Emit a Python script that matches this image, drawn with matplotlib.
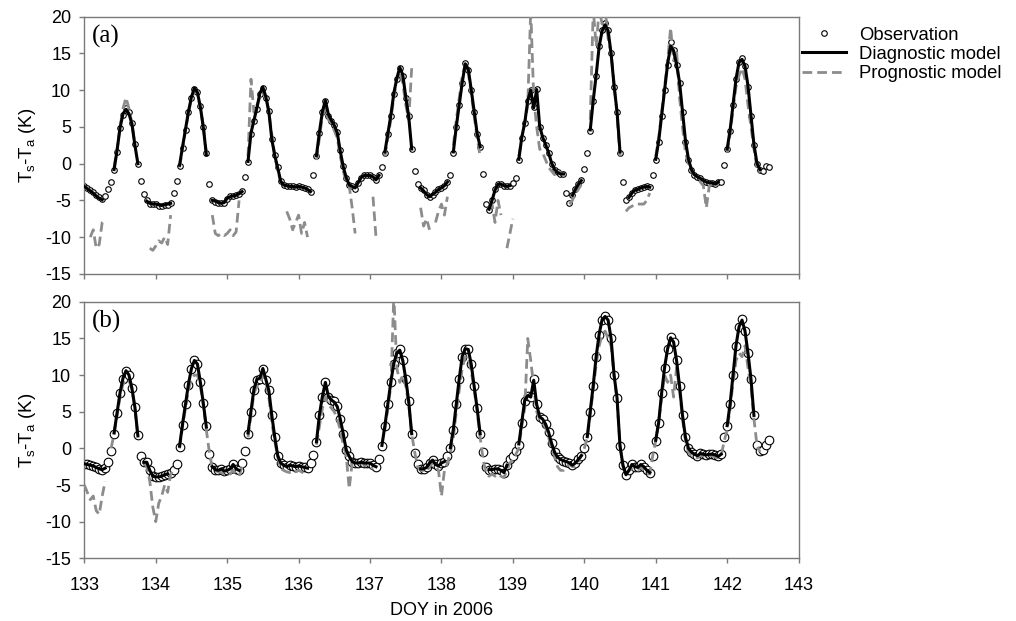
import numpy as np
import matplotlib
matplotlib.use("Agg")
import matplotlib.pyplot as plt

nan = np.nan

# hourly surface-air temperature difference (K), DOY 133.0 - 142.6
# ---- panel (a) ----
obs_a = [
    -3.0, -3.3, -3.6, -3.9, -4.3, -4.6, -4.8, -4.4, -3.4, -2.5, -0.9, 1.6, 4.8, 6.6, 7.6, 7.0, 5.5, 2.7, 0.0, -2.3, -4.1, -5.0, -5.5, -5.5,
    -5.5, -5.7, -5.7, -5.6, -5.6, -5.4, -4.0, -2.4, -0.3, 2.2, 4.6, 7.0, 9.0, 10.2, 9.8, 7.8, 5.0, 1.5, -2.8, -5.0, -5.2, -5.3, -5.4, -5.3,
    -4.8, -4.4, -4.4, -4.3, -4.1, -3.7, -1.8, 0.2, 4.1, 5.8, 7.5, 9.5, 10.3, 9.0, 7.2, 3.4, 1.2, -0.5, -2.4, -2.9, -3.0, -3.1, -3.1, -3.2,
    -3.1, -3.2, -3.3, -3.5, -3.9, -1.6, 1.0, 4.2, 7.0, 8.5, 6.5, 5.8, 5.3, 4.3, 1.8, -0.3, -1.9, -2.9, -3.1, -3.4, -2.6, -1.9, -1.5, -1.6,
    -1.5, -1.8, -2.2, -1.5, -0.5, 1.5, 4.0, 6.5, 9.5, 11.5, 13.0, 12.0, 9.0, 6.5, 2.0, -1.0, -2.8, -3.3, -3.6, -4.2, -4.6, -4.2, -3.9, -3.5,
    -3.3, -3.0, -2.5, -1.5, 1.5, 5.0, 8.0, 11.0, 13.7, 12.8, 10.0, 7.0, 4.0, 2.3, -1.4, -5.5, -6.3, -5.0, -3.5, -2.7, -2.8, -3.0, -3.0, -3.0,
    -2.6, -2.0, 0.5, 3.5, 5.5, 8.5, 10.0, 7.7, 10.2, 5.0, 3.5, 2.5, 1.5, 0.0, -0.8, -1.2, -1.4, -1.4, -4.0, -5.3, -4.3, -3.5, -2.8, -2.2,
    -0.7, 1.5, 4.5, 8.5, 12.0, 16.0, 18.2, 19.2, 18.2, 15.0, 10.5, 7.0, 1.5, -2.5, -5.0, -4.5, -4.0, -3.6, -3.5, -3.3, -3.2, -3.1, -3.2, -1.6,
    0.5, 3.0, 6.5, 10.0, 13.5, 16.6, 15.5, 13.5, 11.0, 7.0, 3.0, 0.5, -0.8, -1.5, -1.8, -2.0, -2.3, -2.5, -2.6, -2.6, -2.8, -2.5, -2.5, -0.2,
    2.0, 4.5, 8.0, 11.5, 13.8, 14.4, 13.3, 10.5, 6.5, 2.5, 0.0, -0.8, -1.0, -0.3, -0.5,
]
diag_a = [
    -3.1, -3.4, -3.7, -4.0, -4.4, -4.7, -4.9, nan, nan, nan, -0.8, 1.8, 4.9, 6.8, 7.4, 6.8, 5.4, 2.5, 0.0, nan, nan, -5.1, -5.4, -5.5,
    -5.5, -5.6, -5.7, -5.6, -5.5, -5.4, nan, nan, -0.2, 2.3, 4.7, 7.1, 9.1, 10.3, 9.7, 7.7, 4.9, 1.2, nan, -5.0, -5.1, -5.3, -5.4, -5.3,
    -4.7, -4.5, -4.4, -4.3, -4.1, -3.8, nan, 0.3, 4.2, 5.9, 7.6, 9.6, 10.4, 9.1, 7.1, 3.3, 1.1, -0.6, -2.4, -2.9, -3.0, -3.1, -3.1, -3.2,
    -3.1, -3.2, -3.3, -3.5, -3.8, nan, 1.1, 4.3, 7.1, 8.6, 6.7, 5.9, 5.2, 4.2, 1.7, -0.4, -1.9, -2.9, -3.1, -3.3, -2.6, -1.9, -1.6, -1.6,
    -1.6, -1.8, -2.2, -1.6, nan, 1.6, 4.1, 6.6, 9.6, 11.6, 13.1, 12.1, 9.1, 6.4, 2.0, nan, nan, -3.3, -3.7, -4.2, -4.5, -4.2, -3.9, -3.5,
    -3.3, -3.0, -2.5, nan, 1.6, 5.1, 8.1, 11.1, 13.6, 12.9, 10.1, 7.1, 4.1, 2.3, nan, nan, -6.2, -5.0, -3.6, -2.8, -2.8, -3.0, -3.1, -3.0,
    nan, nan, 0.6, 3.6, 5.6, 8.6, 10.0, 7.6, 10.1, 5.1, 3.6, 2.6, 1.5, 0.1, -0.8, -1.2, -1.4, -1.4, nan, nan, -4.3, -3.5, -2.8, -2.3,
    nan, nan, 4.6, 8.6, 12.1, 16.0, 18.1, 18.9, 18.1, 15.0, 10.6, 7.1, 1.6, nan, nan, -4.6, -4.0, -3.6, -3.5, -3.3, -3.2, -3.1, -3.2, nan,
    0.6, 3.1, 6.6, 10.1, 13.6, 16.0, 15.4, 13.5, 11.1, 7.1, 3.1, 0.6, -0.8, -1.5, -1.8, -2.0, -2.3, -2.5, -2.6, -2.6, -2.8, -2.5, nan, nan,
    2.0, 4.6, 8.1, 11.6, 13.8, 14.2, 13.3, 10.6, 6.6, 2.6, 0.1, -0.8, nan, nan, nan,
]
prog_a = [
    nan, nan, -10.0, -9.0, -11.5, -11.0, -8.0, -7.5, nan, nan, -0.5, 2.0, 5.0, 7.5, 9.0, 7.5, 5.5, 2.5, nan, nan, nan, nan, -11.5, -11.8,
    -11.2, -10.5, -10.8, -10.0, -11.0, -7.0, nan, nan, -0.5, 2.0, 4.5, 7.0, 8.8, 9.8, 9.5, 7.5, 5.0, 1.5, nan, -7.0, -9.5, -9.8, -9.5, -9.8,
    -9.5, -9.0, -9.8, -9.3, -5.0, nan, nan, 1.0, 11.5, 7.0, 8.0, 9.0, 10.0, 9.0, 7.0, 4.0, 1.0, -1.0, -2.5, nan, -6.5, -7.5, -9.0, -8.0,
    -7.0, -9.5, -8.0, -10.0, nan, nan, 0.5, 3.5, 6.5, 7.5, 6.0, 5.5, 4.5, 3.5, 1.0, -1.0, -2.5, -3.0, -6.0, -9.5, nan, nan, nan, nan,
    nan, -4.5, -10.0, nan, nan, 1.0, 3.5, 6.0, 9.0, 11.5, 12.5, 11.0, 8.0, 6.0, 13.0, nan, nan, -6.0, -8.5, -7.5, -9.0, nan, -8.0, -6.5,
    -5.5, -7.0, -4.5, nan, 2.5, 6.0, 9.0, 12.0, 13.5, 12.5, 9.5, 6.5, 3.5, 1.0, nan, nan, -6.0, -5.5, -8.0, -5.0, -7.0, nan, -11.5, -9.5,
    -7.5, nan, 1.0, 3.5, 5.5, 8.0, 21.0, 9.0, 5.0, 2.0, 1.5, 0.5, -0.5, -1.0, -1.5, -1.0, -1.2, -1.5, nan, -5.5, -5.0, -4.0, -3.5, -2.8,
    nan, nan, 6.0, 21.0, 16.0, 21.0, 19.0, 21.0, 17.0, 15.0, 11.0, 6.5, 1.0, nan, -6.5, -6.0, -5.8, -5.5, -5.5, -5.5, -5.5, -5.0, -4.0, nan,
    1.0, 3.5, 7.0, 10.5, 14.0, 18.5, 14.0, 15.5, 9.0, 5.0, 1.5, 0.0, -1.0, -1.5, -2.0, -2.5, -3.0, -6.0, -3.0, -2.8, -3.0, -2.8, nan, nan,
    1.5, 4.0, 7.5, 10.5, 12.0, 13.0, 11.5, 8.0, 5.0, 2.0, -0.5, -1.2, nan, nan, nan,
]

# ---- panel (b) ----
obs_b = [
    -2.1, -2.2, -2.3, -2.4, -2.6, -2.8, -2.9, -2.7, -1.8, -0.3, 2.0, 4.8, 7.5, 9.5, 10.5, 10.0, 8.3, 5.7, 1.8, -1.1, -1.9, -1.8, -3.0, -3.8,
    -3.9, -3.9, -3.8, -3.6, -3.5, -3.3, -3.0, -2.2, 0.2, 3.2, 6.0, 8.7, 10.8, 12.0, 11.5, 9.0, 6.2, 3.0, -0.8, -2.5, -2.9, -3.0, -2.8, -3.1,
    -3.0, -2.8, -2.2, -2.8, -3.0, -2.0, -0.4, 2.0, 5.0, 8.0, 9.3, 9.5, 10.8, 9.3, 8.0, 4.5, 1.5, -1.0, -2.0, -2.3, -2.5, -2.3, -2.4, -2.5,
    -2.4, -2.5, -2.6, -2.7, -2.0, -0.9, 0.8, 4.5, 7.0, 9.0, 7.0, 6.6, 6.4, 5.8, 4.0, 2.0, -0.2, -1.1, -1.8, -2.0, -2.0, -1.9, -2.0, -2.0,
    -2.0, -2.3, -2.5, -1.5, 0.3, 3.0, 6.0, 9.0, 11.5, 13.0, 13.5, 12.0, 9.5, 6.5, 2.0, -0.7, -2.2, -2.8, -2.8, -2.6, -2.0, -1.6, -2.2, -2.4,
    -2.0, -1.8, -1.0, 0.0, 2.5, 6.0, 9.5, 12.5, 13.5, 13.6, 11.5, 8.5, 5.5, 2.0, -0.5, -2.5, -2.9, -2.9, -2.8, -2.8, -3.0, -3.3, -2.3, -1.5,
    -1.0, -0.4, 0.5, 3.5, 6.5, 7.2, 7.0, 9.4, 6.0, 4.3, 4.0, 3.3, 2.2, 0.7, -0.5, -1.2, -1.5, -1.7, -1.8, -2.0, -2.3, -2.0, -1.5, -1.0,
    0.0, 1.5, 5.0, 8.5, 12.5, 15.5, 17.5, 18.1, 17.5, 15.0, 10.0, 6.9, 0.3, -2.3, -3.7, -3.0, -2.2, -2.5, -2.6, -2.2, -2.5, -3.0, -3.3, -1.0,
    1.0, 3.5, 7.5, 11.0, 13.5, 15.2, 14.5, 12.0, 8.5, 4.5, 1.5, 0.0, -0.5, -0.8, -1.0, -0.7, -0.8, -0.9, -0.8, -0.8, -0.9, -1.1, -0.8, 1.5,
    3.0, 6.0, 10.0, 14.0, 16.5, 17.6, 16.0, 13.0, 9.5, 4.5, 0.5, -0.3, -0.2, 0.5, 1.2,
]
diag_b = [
    -2.1, -2.2, -2.3, -2.4, -2.6, -2.8, -2.9, -2.7, nan, nan, 2.1, 4.9, 7.6, 9.6, 10.6, 10.0, 8.2, 5.6, 1.7, nan, -1.9, -1.9, -3.0, -3.8,
    -3.9, -3.9, -3.8, -3.6, -3.5, nan, nan, nan, 0.3, 3.3, 6.1, 8.8, 10.9, 12.0, 11.5, 9.0, 6.1, 2.9, nan, -2.5, -2.9, -3.0, -2.8, -3.1,
    -3.0, -2.8, -2.2, -2.8, -3.0, nan, nan, 2.1, 5.1, 8.1, 9.4, 9.6, 10.9, 9.4, 7.9, 4.5, 1.5, -1.0, -2.0, -2.3, -2.5, -2.3, -2.4, -2.5,
    -2.4, -2.5, -2.6, -2.7, nan, nan, 0.9, 4.6, 7.1, 9.0, 7.1, 6.6, 6.3, 5.7, 4.0, 2.0, -0.2, -1.1, -1.8, -2.0, -2.0, -1.9, -2.0, -2.0,
    -2.0, -2.3, -2.5, nan, 0.4, 3.1, 6.1, 9.1, 11.6, 13.0, 13.4, 12.0, 9.5, 6.4, 2.0, nan, nan, -2.8, -2.8, -2.6, -2.0, -1.6, -2.2, -2.4,
    -2.0, -1.8, nan, 0.1, 2.6, 6.1, 9.6, 12.6, 13.6, 13.5, 11.5, 8.5, 5.4, 2.0, nan, nan, -2.9, -2.9, -2.8, -2.8, -3.0, -3.3, -2.3, nan,
    nan, nan, 0.6, 3.6, 6.6, 7.2, 7.0, 9.3, 6.0, 4.3, 4.0, 3.3, 2.2, 0.7, -0.5, -1.2, -1.5, -1.7, -1.8, -2.0, -2.3, -2.0, -1.5, -1.0,
    nan, 1.6, 5.1, 8.6, 12.6, 15.6, 17.6, 18.0, 17.5, 15.0, 10.0, 6.9, 0.3, -2.3, -3.6, -3.0, -2.2, -2.5, -2.6, -2.2, -2.5, -3.0, -3.3, nan,
    1.1, 3.6, 7.6, 11.1, 13.6, 15.1, 14.5, 12.0, 8.5, 4.5, 1.5, 0.0, -0.5, -0.8, -1.0, -0.7, -0.8, -0.9, -0.8, -0.8, -0.9, -1.1, -0.8, nan,
    3.1, 6.1, 10.1, 14.1, 16.6, 17.5, 16.0, 13.0, 9.5, 4.5, nan, nan, nan, nan, nan,
]
prog_b = [
    -5.0, -6.0, -7.0, -6.5, -8.5, -9.0, -6.5, -4.5, nan, 0.0, 2.0, 4.5, 7.0, 8.8, 9.3, 9.3, 8.0, 5.5, 1.5, nan, -2.0, -2.5, -4.5, -8.0,
    -10.0, -7.5, -6.5, -5.0, -6.0, -3.5, -3.0, nan, 0.0, 3.0, 5.5, 8.0, 9.5, 10.0, 10.0, 8.5, 5.8, 2.5, -0.5, -2.7, -3.0, -3.2, -3.3, -3.5,
    -3.3, -3.5, -3.0, -3.5, -3.8, -2.5, nan, 1.5, 4.5, 7.5, 8.5, 8.8, 10.0, 9.0, 7.0, 3.5, 1.0, -1.2, -2.8, -3.0, -3.2, -3.3, -3.0, -3.2,
    -3.0, -3.2, -3.5, -3.3, nan, nan, 0.5, 3.0, 5.5, 7.0, 6.0, 5.5, 5.0, 4.0, 2.5, 0.5, -1.0, -5.5, -2.0, -2.2, -2.0, -2.0, -2.2, -2.5,
    -2.5, -2.8, nan, nan, nan, 2.5, 5.5, 8.5, 21.0, 11.0, 9.0, 10.0, 8.5, 6.0, 2.0, -0.5, -2.5, -3.0, -3.0, -3.2, -2.5, -2.0, -2.5, -3.0,
    -6.5, -3.0, -2.0, -0.5, 1.5, 5.0, 8.0, 11.0, 12.5, 12.5, 10.5, 8.0, 5.0, 1.5, -1.5, -3.5, -3.8, -3.5, -3.8, -3.5, -3.8, -4.0, -3.0, -2.0,
    -1.5, -0.8, 0.0, 3.0, 5.5, 15.0, 12.0, 8.5, 5.0, 4.0, 3.5, 2.8, 1.5, 0.0, -1.0, -2.5, -3.0, -3.0, -2.5, -2.2, -2.5, -2.5, -1.8, -1.0,
    0.0, 1.5, 4.5, 8.0, 11.5, 14.0, 15.5, 16.0, 15.0, 14.0, 10.0, 6.5, 0.5, -2.5, -3.5, -3.0, -2.8, -3.0, -3.0, -2.5, -3.0, -3.5, -3.5, -1.0,
    1.0, 3.5, 7.0, 10.0, 9.0, 10.0, 7.0, 11.0, 8.0, 4.0, 1.0, -0.5, -1.0, -1.2, -1.3, -1.0, -1.0, -1.2, -1.0, -1.0, -1.2, -1.3, -1.0, 1.0,
    2.5, 5.5, 9.0, 12.0, 13.0, 12.5, 14.0, 11.0, 8.5, 4.0, 0.5, -0.5, nan, nan, nan,
]

panel_labels = ["(a)", "(b)"]
doy_ticks = list(range(133, 144))
y_ticks = list(range(-15, 21, 5))

plt.rcParams["font.family"] = ["Liberation Sans", "DejaVu Sans"]
plt.rcParams["mathtext.default"] = "regular"
plt.rcParams["axes.unicode_minus"] = False

spine_col = "#7a7a7a"
fig = plt.figure(figsize=(10.16, 6.21), dpi=100)
ax_a = fig.add_axes([0.083, 0.559, 0.703, 0.414])
ax_b = fig.add_axes([0.083, 0.101, 0.703, 0.413])

series = [(ax_a, obs_a, diag_a, prog_a), (ax_b, obs_b, diag_b, prog_b)]
for k, (ax, obs, diag, prog) in enumerate(series):
    t = 133 + np.arange(len(obs)) / 24.0
    ax.plot(t, obs, "o", ms=6.2, mfc="white", mec="black", mew=0.8,
            zorder=2, label="Observation")
    ax.plot(t, diag, "-", color="black", lw=2.2, zorder=4, label="Diagnostic model")
    ax.plot(t, prog, "--", color="#8c8c8c", lw=2.0, dashes=(3.5, 1.8),
            zorder=3, label="Prognostic model")

    ax.set_xlim(133, 143)
    ax.set_ylim(-15, 20)
    ax.set_xticks(doy_ticks)
    ax.set_yticks(y_ticks)
    for s in ax.spines.values():
        s.set_color(spine_col)
        s.set_linewidth(1.0)
    ax.tick_params(direction="out", length=3.5, width=1, color=spine_col,
                   labelsize=13)
    ax.tick_params(axis="x", pad=10)
    ax.tick_params(axis="y", pad=6)
    ax.set_ylabel("T$_s$-T$_a$ (K)", fontsize=13.5, labelpad=5)
    ax.text(0.011, 0.922, panel_labels[k], transform=ax.transAxes,
            fontsize=18, family="Liberation Serif", va="center", ha="left")

ax_a.tick_params(labelbottom=False)
ax_b.set_xlabel("DOY in 2006", fontsize=13, labelpad=6)

h, l = ax_a.get_legend_handles_labels()
h[0].set_markersize(4)
fig.legend(h, l, loc="upper left", bbox_to_anchor=(0.789, 0.957),
           frameon=False, fontsize=13.3, handlelength=2.4, handletextpad=0.7,
           labelspacing=0.12, borderpad=0, borderaxespad=0)

fig.savefig("out.png", dpi=100)
